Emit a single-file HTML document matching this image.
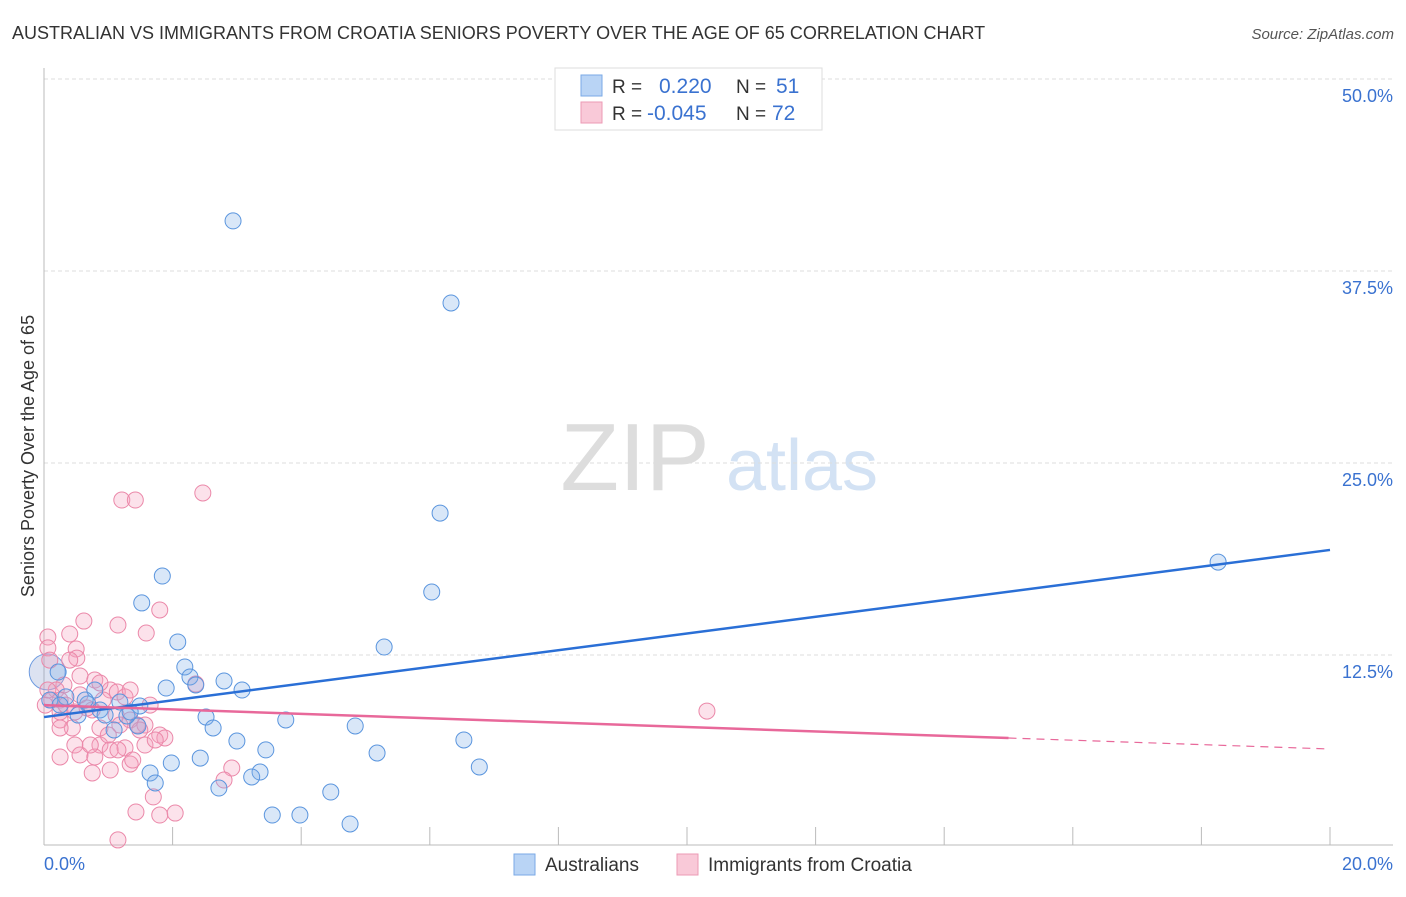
<!DOCTYPE html>
<html><head><meta charset="utf-8"><style>
body{margin:0;background:#fff;font-family:"Liberation Sans",sans-serif;}
svg text{font-family:"Liberation Sans",sans-serif;}
</style></head><body>
<svg id="chart" width="1406" height="892" xmlns="http://www.w3.org/2000/svg">
<text x="12" y="39" font-size="18" fill="#333">AUSTRALIAN VS IMMIGRANTS FROM CROATIA SENIORS POVERTY OVER THE AGE OF 65 CORRELATION CHART</text>
<text x="1394" y="39" font-size="15" fill="#555" font-style="italic" text-anchor="end">Source: ZipAtlas.com</text>
<text x="635" y="490" font-size="96" fill="#ddd" font-family="Liberation Serif" text-anchor="middle">ZIP</text>
<text x="802" y="490" font-size="72" fill="#d3e2f4" text-anchor="middle">atlas</text>
<g id="grid"></g>
<g id="axes"></g>
<g id="points"></g>
<g id="trends"></g>
<text transform="translate(34,456) rotate(-90)" font-size="18" fill="#333" text-anchor="middle">Seniors Poverty Over the Age of 65</text>
<g>
<rect x="555" y="68" width="267" height="62" fill="#fff" stroke="#ddd"/>
<rect x="581" y="75" width="21" height="21" fill="#b9d4f5" stroke="#7aa9e6"/>
<rect x="581" y="102" width="21" height="21" fill="#f9c9d8" stroke="#ec9ab5"/>
<text x="612" y="93" font-size="19" fill="#333">R = </text><text x="659" y="93" font-size="21" fill="#3a72d0">0.220</text>
<text x="736" y="93" font-size="19" fill="#333">N = </text><text x="776" y="93" font-size="21" fill="#3a72d0">51</text>
<text x="612" y="120" font-size="19" fill="#333">R = </text><text x="647" y="120" font-size="21" fill="#3a72d0">-0.045</text>
<text x="736" y="120" font-size="19" fill="#333">N = </text><text x="772" y="120" font-size="21" fill="#3a72d0">72</text>
</g>
<g>
<rect x="514" y="854" width="21" height="21" fill="#b9d4f5" stroke="#7aa9e6"/>
<text x="545" y="871" font-size="19" fill="#333">Australians</text>
<rect x="677" y="854" width="21" height="21" fill="#f9c9d8" stroke="#ec9ab5"/>
<text x="708" y="871" font-size="19" fill="#333">Immigrants from Croatia</text>
</g>
</svg>
<script>
const yTicks=[12.5,25,37.5,50];
const yTickLabels=["12.5%","25.0%","37.5%","50.0%"];
const xTickVals=[0,2,4,6,8,10,12,14,16,18,20];
const xEndLabels=["0.0%","20.0%"];
const blueX=[2.94,6.33,6.16,6.03,18.26,1.84,1.52,2.08,5.29,2.19,2.27,2.36,1.90,2.80,3.08,0.79,0.22,0.68,1.18,1.46,1.09,1.29,2.52,2.63,3.76,4.84,3.00,3.45,6.53,5.18,2.43,1.98,1.65,3.36,3.23,1.73,2.72,4.46,6.77,3.55,3.98,4.76,0.53,0.34,0.09,1.49,0.87,0.95,0.25,1.34,0.64];
const blueY=[40.76,35.42,21.74,16.60,18.55,17.64,15.89,13.35,13.02,11.72,11.07,10.55,10.35,10.81,10.22,10.22,11.39,9.31,9.44,7.88,7.62,8.53,8.46,7.75,8.27,7.88,6.90,6.32,6.97,6.12,5.79,5.47,4.82,4.88,4.56,4.17,3.84,3.58,5.21,2.08,2.08,1.50,8.59,9.77,9.57,9.18,8.92,8.59,9.24,8.79,9.57];
const pinkX=[1.21,1.42,2.47,10.31,0.62,0.40,0.06,0.06,0.50,0.51,1.15,1.59,1.80,0.09,0.56,0.31,0.19,0.25,0.56,0.79,1.03,1.14,0.92,0.75,1.26,1.65,0.25,0.44,0.25,0.48,0.87,0.67,1.12,1.34,1.45,1.57,0.56,0.87,1.03,0.79,1.26,1.80,1.88,1.57,0.75,1.03,1.34,1.73,1.15,0.25,0.72,2.36,2.92,2.80,1.70,1.43,1.80,2.04,1.15,0.25,0.12,0.02,0.06,0.34,0.48,1.49,1.18,1.00,1.38,0.40,0.87,1.34];
const pinkY=[22.59,22.59,23.05,8.85,14.71,13.87,13.67,12.96,12.89,12.30,14.45,13.93,15.43,12.17,11.13,10.55,10.22,9.57,9.90,10.87,10.22,10.09,9.57,8.92,9.77,9.24,8.27,7.75,7.75,6.64,7.75,9.05,8.59,8.27,7.94,7.94,5.99,6.64,6.32,5.86,6.45,7.29,7.10,6.64,4.82,5.01,5.40,6.97,6.32,5.86,6.64,10.61,5.14,4.36,3.26,2.28,2.08,2.21,0.46,8.79,9.57,9.24,10.22,9.24,8.79,7.62,7.94,7.29,5.66,12.17,10.68,10.22];
const blueTrend=[8.46,19.34];   // y at x=0 and x=20
const pinkTrend=[9.24,6.38];    // y at x=0 and x=20
const pinkSolidEnd=15;
const NS="http://www.w3.org/2000/svg";
const X=v=>44+v*64.3, Y=v=>847-v*15.36;
function mk(tag,attrs,parent){const e=document.createElementNS(NS,tag);for(const k in attrs)e.setAttribute(k,attrs[k]);document.getElementById(parent).appendChild(e);return e;}
yTicks.forEach((t,i)=>{
 const l=mk('line',{x1:44,x2:1393,y1:Y(t),y2:Y(t),stroke:'#ddd','stroke-dasharray':'4,3'},'grid');
 
 
 const tx=mk('text',{x:1393,y:Y(t)+23,'font-size':18,fill:'#3a72d0','text-anchor':'end'},'grid');
 tx.textContent=yTickLabels[i];
 
 
});
let a=mk('line',{x1:44,x2:44,y1:68,y2:845,stroke:'#bbb'},'axes');


a=mk('line',{x1:44,x2:1393,y1:845,y2:845,stroke:'#bbb'},'axes');


xTickVals.forEach(v=>{
 const t=mk('line',{x1:X(v),x2:X(v),y1:827,y2:845,stroke:'#bbb'},'axes');
 
 
});
let lt=mk('text',{x:44,y:870,'font-size':18,fill:'#3a72d0'},'axes');lt.textContent=xEndLabels[0];


lt=mk('text',{x:1393,y:870,'font-size':18,fill:'#3a72d0','text-anchor':'end'},'axes');lt.textContent=xEndLabels[1];


let big=mk('circle',{cx:X(0.05),cy:Y(11.4),r:18,fill:'rgba(140,160,210,0.3)',stroke:'#6d9be0'},'points');


pinkX.forEach((x,i)=>{
 const c=mk('circle',{cx:X(x),cy:Y(pinkY[i]),r:8,fill:'rgba(244,160,188,0.3)',stroke:'#eb88a9','stroke-width':1},'points');
 
 
});
blueX.forEach((x,i)=>{
 const c=mk('circle',{cx:X(x),cy:Y(blueY[i]),r:8,fill:'rgba(130,175,232,0.3)',stroke:'#5a95de','stroke-width':1},'points');
 
 
});
let tl=mk('line',{x1:X(0),y1:Y(blueTrend[0]),x2:X(20),y2:Y(blueTrend[1]),stroke:'#2a6fd6','stroke-width':2.5},'trends');


const pm=pinkTrend[0]+(pinkTrend[1]-pinkTrend[0])*pinkSolidEnd/20;
tl=mk('line',{x1:X(0),y1:Y(pinkTrend[0]),x2:X(pinkSolidEnd),y2:Y(pm),stroke:'#e8689a','stroke-width':2.5},'trends');


tl=mk('line',{x1:X(pinkSolidEnd),y1:Y(pm),x2:X(20),y2:Y(pinkTrend[1]),stroke:'#e8689a','stroke-width':1.2,'stroke-dasharray':'8,6'},'trends');


</script>
</body></html>
